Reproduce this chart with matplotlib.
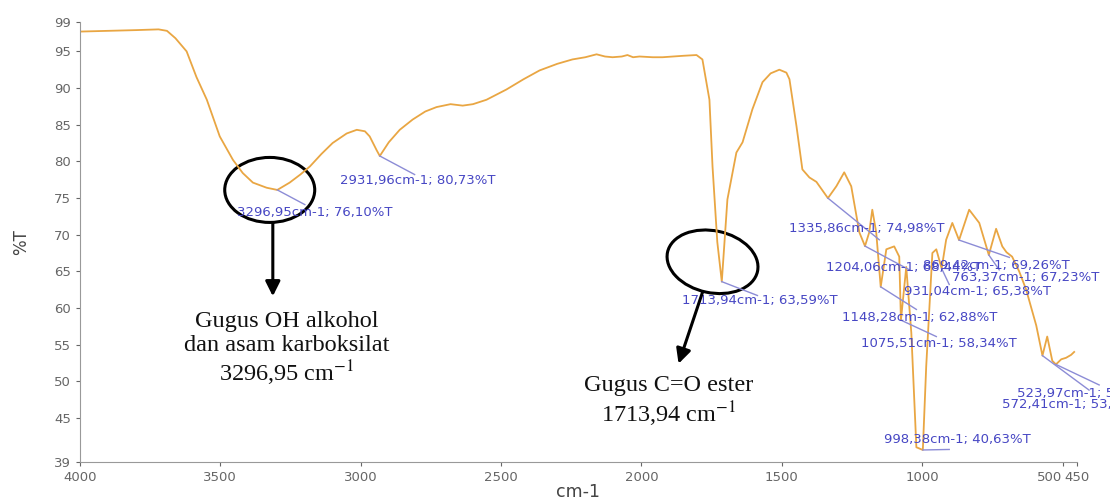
import matplotlib
matplotlib.use("Agg")
import matplotlib.pyplot as plt
import matplotlib.transforms as mtransforms
from matplotlib.patches import Ellipse

plt.rcParams['mathtext.fontset'] = 'stix'

# FTIR spectrum (cm-1, %T)
wavenumber = [4000, 3900, 3800, 3720, 3690, 3660, 3620, 3585, 3548, 3502, 3455, 3420,
              3384, 3335, 3297, 3253, 3215, 3181, 3140, 3100, 3050, 3014, 2985, 2968,
              2943, 2932, 2900, 2861, 2815, 2770, 2730, 2680, 2637, 2600, 2552, 2481,
              2420, 2363, 2300, 2246, 2200, 2160, 2130, 2103, 2070, 2050, 2030, 2007,
              1960, 1925, 1850, 1804, 1783, 1758, 1747, 1730, 1714, 1694, 1662, 1640,
              1605, 1569, 1540, 1509, 1484, 1473, 1448, 1427, 1402, 1377, 1336, 1306,
              1278, 1253, 1224, 1204, 1189, 1178, 1164, 1148, 1128, 1100, 1082, 1076,
              1057, 1039, 1021, 998, 986, 964, 950, 931, 915, 893, 869, 833,
              797, 763, 737, 715, 700, 680, 655, 630, 594, 572, 555, 537,
              524, 505, 488, 470, 459]
transmittance = [97.7, 97.8, 97.9, 98.0, 97.8, 96.8, 95.0, 91.5, 88.4, 83.4, 80.2, 78.4,
                 77.1, 76.4, 76.10, 77.1, 78.2, 79.3, 81.0, 82.5, 83.8, 84.3, 84.1, 83.4,
                 81.5, 80.73, 82.6, 84.3, 85.7, 86.8, 87.4, 87.8, 87.6, 87.8, 88.4, 89.8,
                 91.2, 92.4, 93.3, 93.9, 94.2, 94.6, 94.3, 94.2, 94.3, 94.5, 94.2, 94.3,
                 94.2, 94.2, 94.4, 94.5, 93.9, 88.4, 79.3, 69.0, 63.59, 74.8, 81.2, 82.6,
                 87.1, 90.8, 92.0, 92.5, 92.1, 91.2, 84.8, 78.9, 77.8, 77.2, 74.98, 76.6,
                 78.5, 76.6, 70.3, 68.44, 70.3, 73.4, 70.3, 62.88, 68.0, 68.4, 67.0, 58.34,
                 65.6, 56.6, 41.0, 40.63, 52.0, 67.5, 68.0, 65.38, 69.3, 71.6, 69.26, 73.4,
                 71.6, 67.23, 70.8, 68.4, 67.6, 67.0, 65.0, 62.5, 57.6, 53.5, 56.1, 52.8,
                 52.3, 53.0, 53.2, 53.6, 54.0]

# peak labels from the instrument software
peak_wn = [3297, 2932, 1714, 1336, 1204, 869, 763, 931, 1148, 1076, 998, 524, 572]
peak_text = ["3296,95cm-1; 76,10%T", "2931,96cm-1; 80,73%T", "1713,94cm-1; 63,59%T",
             "1335,86cm-1; 74,98%T", "1204,06cm-1; 68,44%T", "869,42cm-1; 69,26%T",
             "763,37cm-1; 67,23%T", "931,04cm-1; 65,38%T", "1148,28cm-1; 62,88%T",
             "1075,51cm-1; 58,34%T", "998,38cm-1; 40,63%T", "523,97cm-1; 52,33%T",
             "572,41cm-1; 53,51%T"]
label_xy = [(3441, 73.0), (3075, 77.4), (1854, 61.0), (1473, 70.8), (1342, 65.5),
            (996, 65.8), (893, 64.1), (1064, 62.2), (1285, 58.7), (1217, 55.1),
            (1135, 42.0), (662, 48.4), (715, 46.8)]
leader_end = [(3199, 74.1), (2808, 78.2), (1587, 61.7), (1153, 69.3), (1046, 65.2),
              (690, 66.9), (726, 65.2), (904, 63.2), (1021, 59.8), (950, 56.1),
              (904, 40.7), (370, 49.5), (406, 48.8)]

xticks = [4000, 3500, 3000, 2500, 2000, 1500, 1000, 500, 450]
yticks = [39, 45, 50, 55, 60, 65, 70, 75, 80, 85, 90, 95, 99]

curve_col = '#E9A643'
lab_col = '#4747C4'
lead_col = '#8C8CD6'

fig = plt.figure(figsize=(11.1, 5.01), dpi=100)
ax = fig.add_axes([0.072, 0.078, 0.898, 0.878])

ax.plot(wavenumber, transmittance, color=curve_col, lw=1.3)

ax.set_xlim(4000, 450)
ax.set_ylim(39, 99)
ax.set_xticks(xticks)
ax.set_yticks(yticks)
ax.tick_params(colors='#666666', labelsize=9.5, length=3, width=0.8)
for t in ax.get_xticklabels():
    if t.get_text() == '500':
        t.set_ha('right')
for s in ['top', 'right']:
    ax.spines[s].set_visible(False)
for s in ['left', 'bottom']:
    ax.spines[s].set_color('#999999')

ax.set_xlabel('cm-1', fontsize=12.5, color='#444444')
ax.set_ylabel('%T', fontsize=12, color='#444444')
ax.xaxis.set_label_coords(0.5, -0.048)
ax.yaxis.set_label_coords(-0.05, 0.5)

# software peak labels
for i in range(len(peak_wn)):
    k = wavenumber.index(peak_wn[i])
    ax.plot([peak_wn[i], leader_end[i][0]], [transmittance[k], leader_end[i][1]],
            color=lead_col, lw=1.0, clip_on=False)
    ax.text(label_xy[i][0], label_xy[i][1], peak_text[i], color=lab_col,
            fontsize=9.5, ha='left', va='center')

# hand-drawn markers
def ring(cx, cy, w, h, ang):
    tr = fig.dpi_scale_trans + mtransforms.ScaledTranslation(cx, cy, ax.transData)
    ax.add_patch(Ellipse((0, 0), w, h, angle=ang, fill=False, ec='black', lw=2.2,
                         transform=tr, clip_on=False))

ring(3324, 76.1, 0.90, 0.65, 0)
ring(1747, 66.3, 0.92, 0.62, -12)

ax.annotate('', xy=(3313, 61.6), xytext=(3313, 71.6),
            arrowprops=dict(arrowstyle='-|>', color='black', lw=2.2, mutation_scale=22,
                            shrinkA=0, shrinkB=0))
ax.annotate('', xy=(1868, 52.4), xytext=(1783, 62.1),
            arrowprops=dict(arrowstyle='-|>', color='black', lw=2.2, mutation_scale=22,
                            shrinkA=0, shrinkB=0))

ax.text(3263, 54.3, 'Gugus OH alkohol\ndan asam karboksilat\n3296,95 cm$^{-1}$',
        family='Liberation Serif', fontsize=17.5, ha='center', va='center',
        multialignment='center', linespacing=1.15, color='#111111')
ax.text(1904, 47.2, 'Gugus C=O ester\n1713,94 cm$^{-1}$',
        family='Liberation Serif', fontsize=17.5, ha='center', va='center',
        multialignment='center', linespacing=1.15, color='#111111')

fig.savefig('out.png', dpi=100)
